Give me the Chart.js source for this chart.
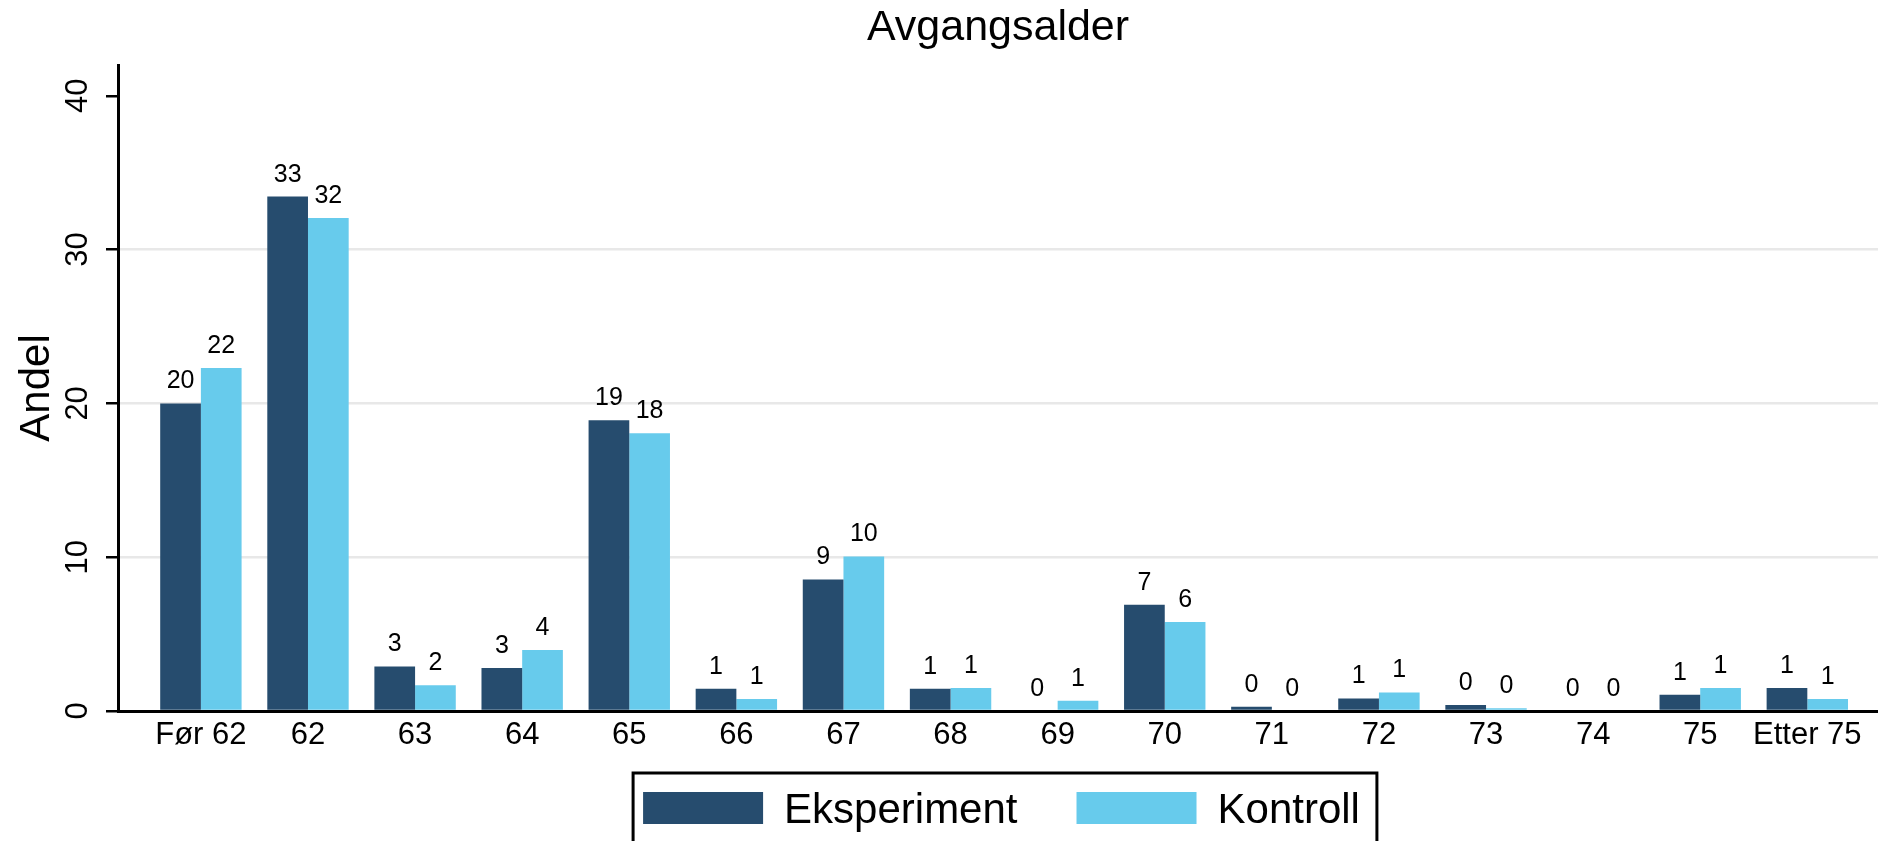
<!DOCTYPE html>
<html>
<head>
<meta charset="utf-8">
<title>Avgangsalder</title>
<script src="https://cdn.jsdelivr.net/npm/chart.js@4.4.1/dist/chart.umd.min.js"></script>
<style>
  html, body { margin: 0; padding: 0; background: #fff; }
  #wrap { width: 1878px; height: 841px; position: relative; }
</style>
</head>
<body>
<div id="wrap"><canvas id="myChart"></canvas></div>
<script>
'use strict'

// categories along the x axis
let categories = ['Før 62', '62', '63', '64', '65', '66', '67', '68', '69', '70', '71', '72', '73', '74', '75', 'Etter 75'];

// share in percent
let eksperiment = [20.0, 33.45, 2.9, 2.8, 18.9, 1.45, 8.55, 1.45, 0, 6.9, 0.28, 0.82, 0.39, 0, 1.05, 1.49];
let kontroll = [22.3, 32.05, 1.68, 3.97, 18.05, 0.78, 10.05, 1.49, 0.67, 5.78, 0, 1.21, 0.18, 0, 1.49, 0.78];

let seriesNames = ['Eksperiment', 'Kontroll'];
let seriesColors = ['#264c6e', '#67cbec'];

let yTicks = [0, 10, 20, 30, 40];

let fontFamily = '"Liberation Sans", Arial, Helvetica, sans-serif';


// value labels above every bar
let barValues = {
  id: 'barValues',
  afterDatasetsDraw(chart) {
    let ctx = chart.ctx;
    ctx.save();
    ctx.font = '25px ' + fontFamily;
    ctx.fillStyle = '#000';
    ctx.textAlign = 'center';
    ctx.textBaseline = 'alphabetic';
    chart.data.datasets.forEach((ds, d) => {
      chart.getDatasetMeta(d).data.forEach((bar, i) => {
        ctx.fillText(String(Math.round(ds.data[i])), bar.x, bar.y - 15);
      });
    });
    ctx.restore();
  }
};

// framed legend under the plot, like the stata one
let boxLegend = {
  id: 'boxLegend',
  afterDraw(chart) {
    let ctx = chart.ctx;
    let area = chart.chartArea;
    ctx.save();
    ctx.font = '42px ' + fontFamily;
    let widths = seriesNames.map(n => ctx.measureText(n).width);
    let total = 10 + 120 + 21 + widths[0] + 59 + 120 + 21 + widths[1] + 17;
    let left = (area.left + area.right) / 2 + 7 - total / 2;
    let top = area.bottom + 62;

    ctx.strokeStyle = '#000';
    ctx.lineWidth = 3;
    ctx.strokeRect(left, top, total, chart.height - top + 20);

    let x = left + 10;
    for (let i = 0; i < seriesNames.length; i++) {
      ctx.fillStyle = seriesColors[i];
      ctx.fillRect(x, top + 19, 120, 32);
      x += 120 + 21;
      ctx.fillStyle = '#000';
      ctx.textAlign = 'left';
      ctx.textBaseline = 'alphabetic';
      ctx.fillText(seriesNames[i], x, top + 50);
      x += widths[i] + 59;
    }
    ctx.restore();
  }
};


let ctx = document.getElementById('myChart').getContext('2d');
let chart = new Chart(ctx, {
  type: 'bar',
  data: {
    labels: categories.map((c, i) => i),
    datasets: [{
      label: seriesNames[0],
      data: eksperiment,
      backgroundColor: seriesColors[0],
      categoryPercentage: 0.76,
      barPercentage: 1.0
    },
    {
      label: seriesNames[1],
      data: kontroll,
      backgroundColor: seriesColors[1],
      categoryPercentage: 0.76,
      barPercentage: 1.0
    }]
  },
  plugins: [barValues, boxLegend],
  options: {
    responsive: true,
    maintainAspectRatio: false,
    animation: false,
    layout: { padding: 0 },
    plugins: {
      legend: { display: false },
      tooltip: { enabled: false },
      title: {
        display: true,
        text: 'Avgangsalder',
        color: '#000',
        fullSize: false,
        font: { family: fontFamily, size: 43, weight: 'normal' },
        padding: { top: 2, bottom: 11.4 }
      }
    },
    scales: {
      x: {
        type: 'linear',
        min: -0.774,
        max: 15.66,
        offset: false,
        grid: { display: false, drawTicks: false, offset: false },
        border: { display: true, color: '#000', width: 3 },
        afterFit(scale) { scale.height = 130; },
        ticks: {
          stepSize: 1,
          includeBounds: false,
          autoSkip: false,
          minRotation: 0,
          maxRotation: 0,
          padding: 6,
          color: '#000',
          font: { family: fontFamily, size: 31 },
          callback: (value) => Number.isInteger(value) ? categories[value] : ''
        }
      },
      y: {
        min: 0,
        max: 42,
        afterFit(scale) { scale.width = 118; },
        afterBuildTicks(scale) { scale.ticks = yTicks.map(v => ({ value: v })); },
        grid: {
          color: (c) => (c.tick && (c.tick.value === 0 || c.tick.value === 40)) ? 'rgba(0,0,0,0)' : '#e8e8e8',
          lineWidth: 2.5,
          tickColor: '#000',
          tickWidth: 2.5,
          tickLength: 12
        },
        border: { display: true, color: '#000', width: 3 },
        title: {
          display: true,
          text: 'Andel',
          color: '#000',
          font: { family: fontFamily, size: 42 },
          padding: { top: 12, bottom: 0 }
        },
        ticks: {
          minRotation: 90,
          maxRotation: 90,
          crossAlign: 'center',
          padding: 10,
          color: '#000',
          font: { family: fontFamily, size: 31 }
        }
      }
    }
  }
});
</script>
</body>
</html>
